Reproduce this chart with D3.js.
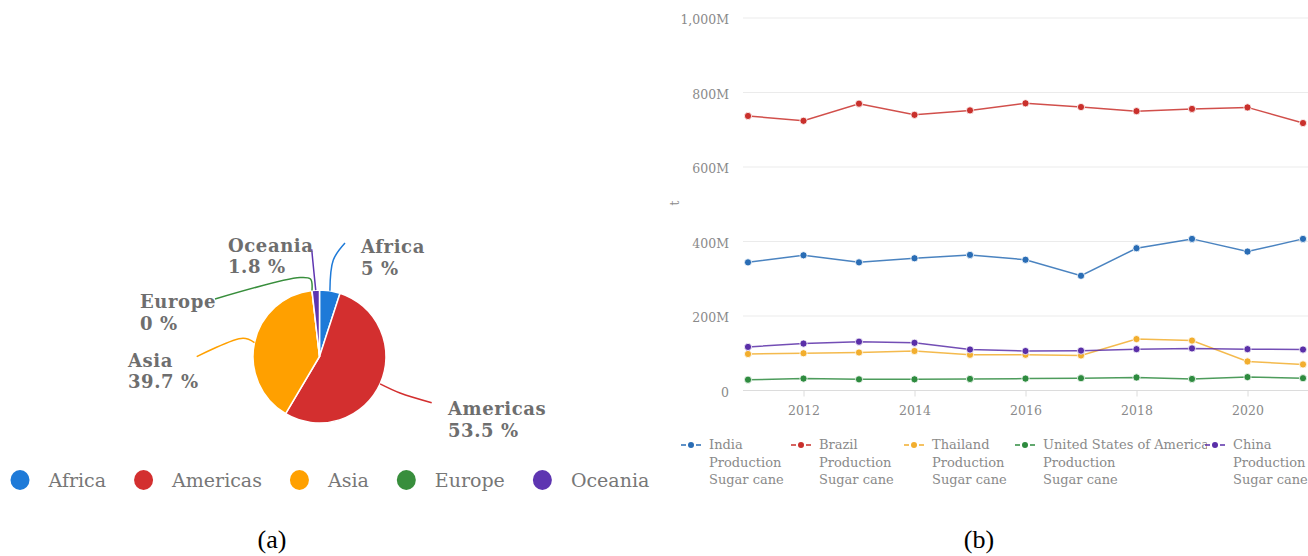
<!DOCTYPE html>
<html>
<head>
<meta charset="utf-8">
<script src="https://cdn.jsdelivr.net/npm/d3@7"></script>
<style>
  html, body { margin: 0; padding: 0; background: #fff; }
  svg { display: block; }
</style>
</head>
<body>
<svg id="chart" width="1308" height="556"></svg>
<script>
// ---------- Data: pie (a) ----------
const regions = ["Africa", "Americas", "Asia", "Europe", "Oceania"];
const regionShares = [5, 53.5, 39.7, 0, 1.8];
const regionLabels = ["5 %", "53.5 %", "39.7 %", "0 %", "1.8 %"];
const regionColors = ["#1e7ad8", "#d32f2f", "#ffa000", "#388e3c", "#5e35b1"];

// ---------- Data: lines (b) ----------
const years = [2011, 2012, 2013, 2014, 2015, 2016, 2017, 2018, 2019, 2020, 2021];
const india    = [344, 363, 344, 355, 364, 351, 308, 382, 407, 373, 407];
const brazil   = [737, 724, 770, 740, 752, 771, 761, 750, 756, 760, 718];
const thailand = [98, 100, 102, 106, 96, 96, 94, 138, 134, 78, 70];
const usa      = [29, 32, 30, 30, 31, 32, 33, 35, 31, 36, 33];
const china    = [117, 126, 131, 128, 110, 106, 107, 111, 113, 111, 110];
const seriesNames = ["India", "Brazil", "Thailand", "United States of America", "China"];
const seriesColors = ["#2a6db5", "#c9302c", "#f2ae2e", "#2e8b3f", "#5a2fa8"];
const yTicks = [0, 200, 400, 600, 800, 1000];
const yTickLabels = ["0", "200M", "400M", "600M", "800M", "1,000M"];
const xTicks = [2012, 2014, 2016, 2018, 2020];
const legendSub = ["Production", "Sugar cane"];

const svg = d3.select("#chart");

// ================= PIE =================
const pieLayout = { cx: 319.5, cy: 356.5, r: 66.5 };
// label leader/label offsets relative to pie centre (layout only)
const labelLayout = [
  { via: [[13.8, -96.5]], end: [25.5, -113.5], text: [41.5, -103.5] },            // Africa
  { via: [[80.5, 36.5]], end: [112.2, 46.2], text: [128.5, 58.5] },              // Americas
  { via: [[-76.5, -18.2]], end: [-122.8, 0.2], text: [-191.5, 10.2] },          // Asia
  { via: [[-9, -77.5], [-19.5, -79]], end: [-104.5, -57.5], text: [-179.5, -48.5] }, // Europe
  { via: [[-5.8, -86.5]], end: [-7.8, -107.2], text: [-91.5, -104.8] }           // Oceania
];

const pieData = d3.pie().sort(null).value(d => d)(regionShares);
const arc = d3.arc().innerRadius(0).outerRadius(pieLayout.r);
const gPie = svg.append("g").attr("transform", `translate(${pieLayout.cx},${pieLayout.cy})`);

gPie.selectAll("path.slice").data(pieData).join("path")
  .attr("class", "slice")
  .attr("d", arc)
  .attr("fill", (d, i) => regionColors[i])
  .attr("stroke", "#fff")
  .attr("stroke-width", 1.5)
  .attr("stroke-linejoin", "round");

const lineGen = d3.line().curve(d3.curveCatmullRom.alpha(0.5));
pieData.forEach((d, i) => {
  const mid = (d.startAngle + d.endAngle) / 2;
  const p0 = [Math.sin(mid) * pieLayout.r, -Math.cos(mid) * pieLayout.r];
  const L = labelLayout[i];
  const pts = [p0, ...L.via, L.end];
  gPie.append("path")
    .attr("d", lineGen(pts))
    .attr("fill", "none")
    .attr("stroke", regionColors[i])
    .attr("stroke-width", 1.5);
  const t = gPie.append("text")
    .attr("x", L.text[0]).attr("y", L.text[1])
    .attr("font-family", "DejaVu Serif")
    .attr("font-weight", "bold")
    .attr("font-size", 18)
    .attr("letter-spacing", 0.6)
    .attr("fill", "#6e6e6e");
  t.append("tspan").attr("x", L.text[0]).text(regions[i]);
  t.append("tspan").attr("x", L.text[0]).attr("dy", 21.5).text(regionLabels[i]);
});

// pie legend
const gLeg = svg.append("g").attr("transform", "translate(0,480)");
let lx = 20;
regions.forEach((name, i) => {
  gLeg.append("ellipse").attr("cx", lx).attr("cy", 0).attr("rx", 9.5).attr("ry", 10)
    .attr("fill", regionColors[i]);
  const t = gLeg.append("text").attr("x", lx + 28.5).attr("y", 7)
    .attr("font-family", "DejaVu Serif").attr("font-size", 19)
    .attr("fill", "#777").text(name);
  const w = t.node().getComputedTextLength();
  lx = lx + 28.5 + w + 37.5;
});

// ================= LINE CHART =================
const plot = { x0: 748, x1: 1303, gridX0: 743, gridX1: 1308, y0: 390.5, y1: 18 };
const x = d3.scaleLinear().domain([2011, 2021]).range([plot.x0, plot.x1]);
const y = d3.scaleLinear().domain([0, 1000]).range([plot.y0, plot.y1]);
const gL = svg.append("g");

// grid
gL.selectAll("line.grid").data(yTicks).join("line")
  .attr("x1", plot.gridX0).attr("x2", plot.gridX1)
  .attr("y1", d => y(d)).attr("y2", d => y(d))
  .attr("stroke", d => d === 0 ? "#dcdcdc" : "#ebebeb").attr("stroke-width", 1.2);

// y axis labels
const yAxis = d3.axisLeft(y).tickValues(yTicks).tickSize(0).tickPadding(0)
  .tickFormat((d, i) => yTickLabels[i]);
const gy = gL.append("g").attr("transform", "translate(729,0)").call(yAxis);
gy.select(".domain").remove();
gy.selectAll("text").attr("font-family", "DejaVu Serif").attr("font-size", 12.5)
  .attr("fill", "#8a8a8a").attr("dy", "0.45em");

// x axis
const xAxis = d3.axisBottom(x).tickValues(xTicks).tickSize(6).tickPadding(10).tickFormat(d3.format("d"));
const gx = gL.append("g").attr("transform", `translate(0,${plot.y0})`).call(xAxis);
gx.select(".domain").remove();
gx.selectAll("line").attr("stroke", "#dcdcdc");
gx.selectAll("text").attr("font-family", "DejaVu Serif").attr("font-size", 12.5)
  .attr("fill", "#8a8a8a");

// y axis title
gL.append("text").attr("transform", "translate(679,203) rotate(-90)")
  .attr("text-anchor", "middle").attr("font-family", "DejaVu Serif")
  .attr("font-size", 12).attr("fill", "#8a8a8a").text("t");

// series
const allSeries = [india, brazil, thailand, usa, china];
const line = d3.line().x((d, i) => x(years[i])).y(d => y(d));
const drawOrder = [3, 2, 4, 0, 1];
drawOrder.forEach(si => {
  const vals = allSeries[si];
  gL.append("path").attr("d", line(vals)).attr("fill", "none")
    .attr("stroke", seriesColors[si]).attr("stroke-width", 1.5).attr("opacity", 0.85);
  gL.selectAll(null).data(vals).join("circle")
    .attr("cx", (d, i) => x(years[i])).attr("cy", d => y(d)).attr("r", 3.6)
    .attr("fill", seriesColors[si]).attr("stroke", "#fff").attr("stroke-width", 0.8);
});

// legend (b)
const legX = [681, 791, 904, 1015, 1205];
const gLeg2 = svg.append("g");
seriesNames.forEach((name, i) => {
  const g = gLeg2.append("g").attr("transform", `translate(${legX[i]},445)`);
  const t = g.append("text").attr("x", 28).attr("y", 4)
    .attr("font-family", "DejaVu Serif").attr("font-size", 13).attr("fill", "#8a8a8a");
  t.append("tspan").attr("x", 28).text(name);
  legendSub.forEach(s => t.append("tspan").attr("x", 28).attr("dy", 17.5).text(s));
});
seriesNames.forEach((name, i) => {
  const g = gLeg2.append("g").attr("transform", `translate(${legX[i]},445)`);
  if (i === 4) g.append("rect").attr("x", 2).attr("y", -6).attr("width", 18).attr("height", 11).attr("fill", "#fff");
  g.append("line").attr("x1", 0).attr("x2", 5).attr("y1", 0).attr("y2", 0)
    .attr("stroke", seriesColors[i]).attr("stroke-width", 1.5);
  g.append("line").attr("x1", 15).attr("x2", 20).attr("y1", 0).attr("y2", 0)
    .attr("stroke", seriesColors[i]).attr("stroke-width", 1.5);
  g.append("circle").attr("cx", 10).attr("cy", 0).attr("r", 3).attr("fill", seriesColors[i]);
});

// captions
svg.append("text").attr("x", 272).attr("y", 548).attr("text-anchor", "middle")
  .attr("font-family", "Liberation Serif").attr("font-size", 26).attr("fill", "#000").text("(a)");
svg.append("text").attr("x", 979).attr("y", 548).attr("text-anchor", "middle")
  .attr("font-family", "Liberation Serif").attr("font-size", 26).attr("fill", "#000").text("(b)");
</script>
</body>
</html>
